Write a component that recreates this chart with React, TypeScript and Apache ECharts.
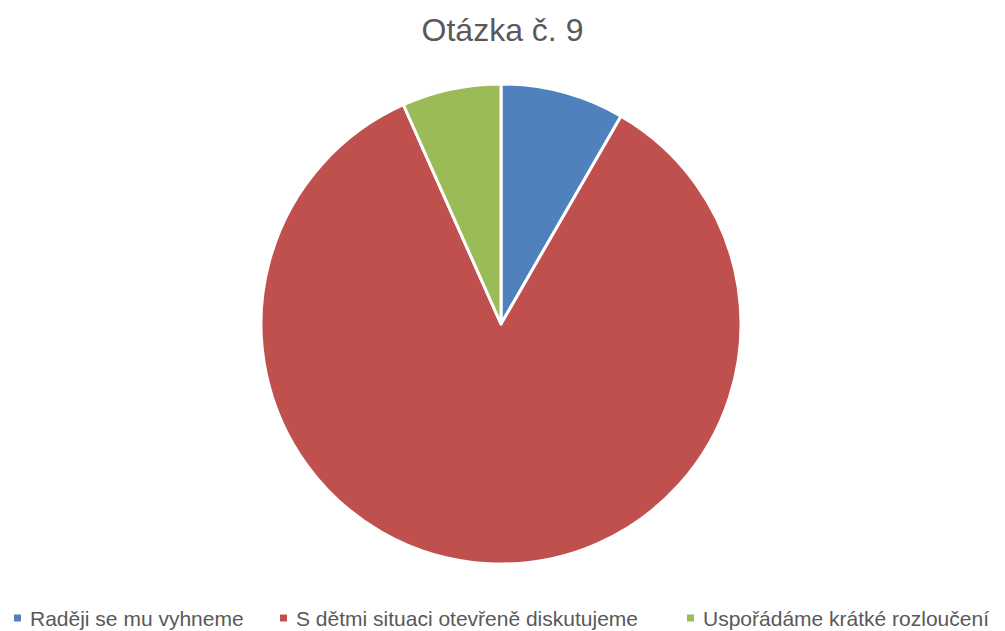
import React, { useEffect, useRef } from "react";
import * as echarts from "echarts";

const categories = [
  "Raději se mu vyhneme",
  "S dětmi situaci otevřeně diskutujeme",
  "Uspořádáme krátké rozloučení",
];
const values = [5, 51, 4];
const colors = ["#4f81bd", "#c0504d", "#9bbb59"];
const legendLefts = [12, 278, 685];

export default function App() {
  const ref = useRef<HTMLDivElement>(null);
  useEffect(() => {
    if (!ref.current) return;
    const chart = echarts.init(ref.current, undefined, { renderer: "svg" });
    chart.setOption({
      animation: false,
      title: {
        text: "Otázka č. 9",
        left: "center",
        top: 9,
        textStyle: {
          fontFamily: "Liberation Sans",
          fontSize: 32,
          fontWeight: "normal",
          color: "#595959",
        },
      },
      legend: categories.map((name, i) => ({
        top: 607,
        left: legendLefts[i],
        padding: 0,
        itemWidth: 9,
        itemHeight: 9,
        icon: "rect",
        textStyle: {
          fontFamily: "Liberation Sans",
          fontSize: 21,
          lineHeight: 22,
          color: "#595959",
          padding: [0, 0, 0, 3],
        },
        data: [name],
      })),
      series: [
        {
          type: "pie",
          center: [501, 324],
          radius: 240,
          startAngle: 90,
          clockwise: true,
          label: { show: false },
          labelLine: { show: false },
          emphasis: { disabled: true },
          itemStyle: { borderColor: "#ffffff", borderWidth: 3 },
          data: categories.map((name, i) => ({
            name,
            value: values[i],
            itemStyle: { color: colors[i] },
          })),
        },
      ],
    });
    return () => chart.dispose();
  }, []);
  return (
    <div
      ref={ref}
      style={{ position: "absolute", left: 0, top: 0, width: 1005, height: 631 }}
    />
  );
}
